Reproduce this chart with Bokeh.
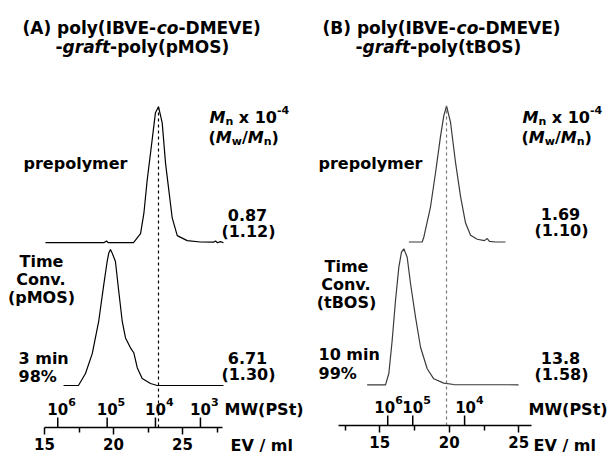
from bokeh.plotting import figure
from bokeh.layouts import row
from bokeh.models import Label, FixedTicker, Range1d, LinearAxis
from bokeh.embed import file_html
from bokeh.resources import INLINE

# ------------------------------------------------------------------ data
# Panel A : poly(IBVE-co-DMEVE)-graft-poly(pMOS)
a_pre_ev = [15.07, 19.30, 19.49, 19.62, 21.45, 21.96, 22.20, 22.44, 22.80, 23.04,
            23.26, 23.53, 23.77, 24.01, 24.25, 24.62, 25.34, 26.30, 27.25, 27.39,
            27.54, 27.75, 27.97]
a_pre_int = [0.0, 0.0, 0.012, 0.0, 0.0, 0.067, 0.215, 0.459, 0.756, 0.956,
             1.0, 0.881, 0.585, 0.385, 0.185, 0.052, 0.015, 0.005, 0.004, 0.012,
             0.0, 0.008, 0.0]
a_pol_ev = [16.38, 17.46, 17.97, 18.46, 18.93, 19.30, 19.54, 19.66, 19.78, 19.90,
            20.14, 20.38, 20.63, 20.87, 21.23, 21.47, 21.72, 22.08, 22.68, 23.17, 27.97]
a_pol_int = [0.0, 0.0, 0.088, 0.234, 0.474, 0.745, 0.912, 0.975, 1.0, 0.975,
             0.912, 0.693, 0.474, 0.350, 0.277, 0.241, 0.131, 0.051, 0.015, 0.0, 0.0]
a_ev_ticks = [15, 20, 25]
a_ev_minor = [17.5, 22.5, 27.5]
a_ev_bounds = (15, 27.9)
a_mw_ev = [15.96, 19.54, 23.04, 26.30]
a_mw_exp = ["6", "5", "4", "3"]
a_mn = ["0.87", "6.71"]
a_pdi = ["(1.12)", "(1.30)"]
a_time = "3 min"
a_conv = "98%"

# Panel B : poly(IBVE-co-DMEVE)-graft-poly(tBOS)
b_pre_ev = [17.09, 18.05, 18.17, 18.65, 19.01, 19.37, 19.60, 19.80, 20.09, 20.45,
            20.81, 21.17, 21.53, 22.01, 22.53, 22.73, 22.89, 23.32, 24.04]
b_pre_int = [0.0, 0.0, 0.037, 0.259, 0.509, 0.778, 0.926, 1.0, 0.879, 0.583,
             0.333, 0.139, 0.05, 0.02, 0.01, 0.025, 0.005, 0.0, 0.0]
b_pol_ev = [14.09, 15.41, 15.65, 15.89, 16.13, 16.37, 16.56, 16.73, 16.97, 17.21,
            17.57, 17.93, 18.41, 18.88, 19.60, 20.32, 24.98]
b_pol_int = [0.0, 0.0, 0.083, 0.326, 0.62, 0.865, 0.975, 1.0, 0.938, 0.745,
             0.497, 0.276, 0.118, 0.044, 0.012, 0.002, 0.0]
b_ev_ticks = [15, 20, 25]
b_ev_minor = [12.5, 17.5, 22.5]
b_ev_bounds = (12.03, 25.9)
b_mw_ev = [15.57, 17.37, 21.10]
b_mw_exp = ["6", "5", "4"]
b_mn = ["1.69", "13.8"]
b_pdi = ["(1.10)", "(1.58)"]
b_time = "10 min"
b_conv = "99%"

# ------------------------------------------------------------------ styling helpers
FONT = "DejaVu Sans"
OFFSET = 1.05   # vertical stacking offset of the prepolymer trace
LABEL_DY = -4   # correction of the rendered text baseline (px)

# DejaVu Sans Bold advance widths (units per em = 2048)
W = {' ': 713, '%': 2052, '(': 938, ')': 938, '-': 852, '.': 780, '/': 745,
     'A': 1585, 'B': 1561, 'C': 1503, 'D': 1700, 'E': 1399, 'I': 762, 'M': 2040,
     'O': 1741, 'P': 1503, 'S': 1475, 'T': 1397, 'V': 1585, 'W': 2251,
     'a': 1382, 'c': 1214, 'e': 1389, 'f': 891, 'g': 1466, 'i': 702, 'l': 702,
     'm': 2134, 'n': 1458, 'o': 1407, 'p': 1466, 'r': 1010, 't': 979, 'v': 1331,
     'w': 1892, 'x': 1323, 'y': 1331}
for d in "0123456789":
    W[d] = 1425

KIND = {
    'b': (16, 'bold', 0), 'i': (16, 'bold italic', 0),
    'sub': (11, 'bold', 4), 'sup': (11, 'bold', -8),
    'tb': (17, 'bold', 0), 'ti': (17, 'bold italic', 0),
    'tk': (15, 'bold', 0), 'tsup': (11, 'bold', -7),
}


def tw(s, size):
    return sum(W.get(c, 1400) for c in s) / 2048.0 * size


class Tf:
    """canvas pixel -> data coordinate transform for one panel"""
    def __init__(self, x0px, ev0, pxper, ybase, ypx):
        self.x0px, self.ev0, self.pxper, self.ybase, self.ypx = x0px, ev0, pxper, ybase, ypx

    def x(self, X):
        return self.ev0 + (X - self.x0px) / self.pxper

    def y(self, Y):
        return (self.ybase - Y) / self.ypx


def rich(p, T, X, Y, segs, align="left"):
    widths = [tw(t, KIND[k][0]) for t, k in segs]
    if align == "center":
        X -= sum(widths) / 2.0
    for (t, k), w in zip(segs, widths):
        size, style, dy = KIND[k]
        core = t.lstrip(' ')
        lead = tw(' ' * (len(t) - len(core)), size)
        p.add_layout(Label(x=T.x(X + lead), y=T.y(Y + dy + LABEL_DY), text=core,
                           text_font=FONT, text_font_size=f"{size}px",
                           text_font_style=style, text_baseline="alphabetic",
                           text_align="left", text_color="black"))
        X += w


def panel(X0, T, axis_px, pre_ev, pre_int, pol_ev, pol_int, ticks, minor, bounds,
          mw_ev, mw_exp, mw_shift, line_color, dash_color):
    p = figure(width=304, height=456,
               x_range=Range1d(T.x(X0), T.x(X0 + 304)),
               y_range=Range1d(T.y(456), T.y(0)),
               toolbar_location=None, output_backend="svg",
               x_axis_location=None, y_axis_location=None,
               min_border=0, outline_line_color=None)
    p.grid.visible = False
    p.background_fill_color = "white"
    p.border_fill_color = "white"

    ax = LinearAxis(fixed_location=T.y(axis_px),
                    ticker=FixedTicker(ticks=ticks, minor_ticks=minor),
                    bounds=bounds)
    ax.axis_line_width = 1.5
    ax.axis_line_color = "black"
    ax.major_tick_line_width = 1.5
    ax.major_tick_line_color = "black"
    ax.minor_tick_line_width = 1.5
    ax.minor_tick_line_color = "black"
    ax.major_tick_in = 0
    ax.major_tick_out = 7
    ax.minor_tick_in = 0
    ax.minor_tick_out = 5
    ax.major_label_standoff = 3
    ax.major_label_text_font = FONT
    ax.major_label_text_font_size = "15px"
    ax.major_label_text_font_style = "bold"
    ax.major_label_text_color = "black"
    p.add_layout(ax, "below")

    # traces
    p.line(pre_ev, [v + OFFSET for v in pre_int], line_color=line_color, line_width=1.2)
    p.line(pol_ev, pol_int, line_color=line_color, line_width=1.2)

    # dashed guide at prepolymer peak
    pk = pre_ev[pre_int.index(max(pre_int))]
    p.segment(x0=[pk], y0=[T.y(axis_px)], x1=[pk], y1=[OFFSET + max(pre_int)],
              line_color=dash_color, line_width=1.2, line_dash="3 3")

    # MW (PSt) calibration ticks pointing up from the EV axis line
    y0 = T.y(axis_px)
    y1 = T.y(axis_px - 10)
    p.segment(x0=mw_ev, y0=[y0] * len(mw_ev), x1=mw_ev, y1=[y1] * len(mw_ev),
              line_color="black", line_width=1.5)
    for ev, e, s in zip(mw_ev, mw_exp, mw_shift):
        Xc = T.x0px + (ev - T.ev0) * T.pxper + s
        wten = tw("10", 15)
        rich(p, T, Xc - wten / 2.0, axis_px - 15, [("10", "tk"), (e, "tsup")])
    return p


# ------------------------------------------------------------------ panel A
TA = Tf(44.0, 15.0, 13.8, 385.0, 136.0)
pA = panel(0, TA, 427, a_pre_ev, a_pre_int, a_pol_ev, a_pol_int, a_ev_ticks,
           a_ev_minor, a_ev_bounds, a_mw_ev, a_mw_exp, [0, 0, 0, 0], "black", "black")
rich(pA, TA, 22, 31, [("(A) poly(IBVE-", "tb"), ("co", "ti"), ("-DMEVE)", "tb")])
rich(pA, TA, 55, 50, [("-", "tb"), ("graft", "ti"), ("-poly(pMOS)", "tb")])
rich(pA, TA, 23, 167, [("prepolymer", "b")])
rich(pA, TA, 209, 121, [("M", "i"), ("n", "sub"), (" x 10", "b"), ("-4", "sup")])
rich(pA, TA, 208, 141, [("(", "b"), ("M", "i"), ("w", "sub"), ("/", "b"),
                        ("M", "i"), ("n", "sub"), (")", "b")])
rich(pA, TA, 247, 218, [(a_mn[0], "b")], "center")
rich(pA, TA, 248, 235, [(a_pdi[0], "b")], "center")
rich(pA, TA, 41, 265, [("Time", "b")], "center")
rich(pA, TA, 41, 283, [("Conv.", "b")], "center")
rich(pA, TA, 41, 301, [("(pMOS)", "b")], "center")
rich(pA, TA, 18, 362, [(a_time, "b")])
rich(pA, TA, 18, 380, [(a_conv, "b")])
rich(pA, TA, 247, 361, [(a_mn[1], "b")], "center")
rich(pA, TA, 248, 378, [(a_pdi[1], "b")], "center")
rich(pA, TA, 224, 413, [("MW(PSt)", "b")])
rich(pA, TA, 230, 449, [("EV / ml", "b")])

# ------------------------------------------------------------------ panel B
TB = Tf(379.3, 15.0, 13.9, 384.3, 136.0)
pB = panel(304, TB, 425, b_pre_ev, b_pre_int, b_pol_ev, b_pol_int, b_ev_ticks,
           b_ev_minor, b_ev_bounds, b_mw_ev, b_mw_exp, [-3, 0, 1], "#3a3a3a", "#777777")
rich(pB, TB, 322, 31, [("(B) poly(IBVE-", "tb"), ("co", "ti"), ("-DMEVE)", "tb")])
rich(pB, TB, 355, 50, [("-", "tb"), ("graft", "ti"), ("-poly(tBOS)", "tb")])
rich(pB, TB, 318, 167, [("prepolymer", "b")])
rich(pB, TB, 522, 121, [("M", "i"), ("n", "sub"), (" x 10", "b"), ("-4", "sup")])
rich(pB, TB, 521, 141, [("(", "b"), ("M", "i"), ("w", "sub"), ("/", "b"),
                        ("M", "i"), ("n", "sub"), (")", "b")])
rich(pB, TB, 560, 217, [(b_mn[0], "b")], "center")
rich(pB, TB, 561, 234, [(b_pdi[0], "b")], "center")
rich(pB, TB, 346, 270, [("Time", "b")], "center")
rich(pB, TB, 346, 288, [("Conv.", "b")], "center")
rich(pB, TB, 346, 306, [("(tBOS)", "b")], "center")
rich(pB, TB, 318, 358, [(b_time, "b")])
rich(pB, TB, 318, 377, [(b_conv, "b")])
rich(pB, TB, 560, 361, [(b_mn[1], "b")], "center")
rich(pB, TB, 561, 378, [(b_pdi[1], "b")], "center")
rich(pB, TB, 528, 413, [("MW(PSt)", "b")])
rich(pB, TB, 533, 449, [("EV / ml", "b")])

layout = row(pA, pB, spacing=0)
open("out.html", "w").write(file_html(layout, INLINE))
